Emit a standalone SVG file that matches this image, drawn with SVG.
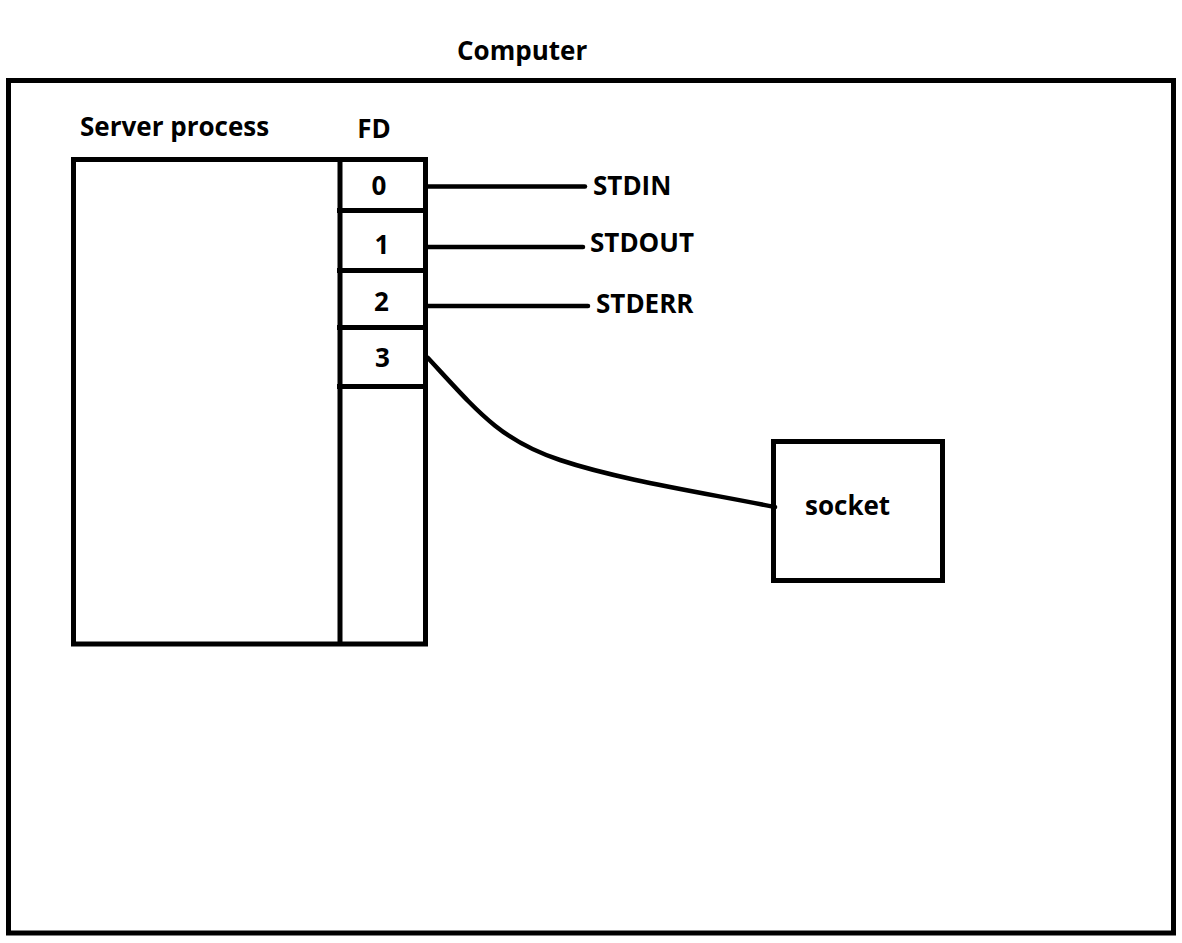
<svg xmlns="http://www.w3.org/2000/svg" width="1182" height="943" viewBox="0 0 1182 943">
<style>
.box{fill:none;stroke:#000;stroke-width:5}
.ln{fill:none;stroke:#000;stroke-width:4.5;stroke-linecap:round}
.t{font-family:"Open Sans","Noto Sans","Liberation Sans",sans-serif;font-weight:bold;font-size:26px;fill:#000}
.c{text-anchor:middle}
</style>
<rect width="1182" height="943" fill="#fff"/>
<g id="computer">
<rect class="box" x="8.5" y="80.5" width="1165" height="852.5"/>
<text class="t" x="457" y="60">Computer</text>
</g>
<g id="server-process">
<rect class="box" x="73.5" y="159.5" width="352" height="484.5"/>
<text class="t" x="80" y="136">Server process</text>
</g>
<g id="fd-table">
<text class="t c" x="374" y="138">FD</text>
<line class="box" x1="340" y1="159" x2="340" y2="644"/>
<line class="box" x1="337" y1="210.5" x2="428" y2="210.5"/>
<line class="box" x1="337" y1="270.5" x2="428" y2="270.5"/>
<line class="box" x1="337" y1="327.5" x2="428" y2="327.5"/>
<line class="box" x1="337" y1="386.5" x2="428" y2="386.5"/>
<text class="t c" x="379" y="195">0</text>
<text class="t c" x="382" y="254">1</text>
<text class="t c" x="381.5" y="311">2</text>
<text class="t c" x="382.5" y="366.5">3</text>
</g>
<g id="stdin"><text class="t" x="593" y="195">STDIN</text></g>
<g id="stdout"><text class="t" x="590" y="252">STDOUT</text></g>
<g id="stderr"><text class="t" x="596" y="313">STDERR</text></g>
<g id="socket">
<rect class="box" x="773.5" y="441.5" width="169" height="139"/>
<text class="t" x="805" y="515">socket</text>
</g>
<g id="connectors">
<line class="ln" x1="428" y1="186.5" x2="585" y2="186.5"/>
<line class="ln" x1="428" y1="247" x2="583" y2="247"/>
<line class="ln" x1="428" y1="306" x2="588" y2="306"/>
<path class="ln" d="M428,358 C478,412 500,440 560,460 S700,492 775,507"/>
</g>
</svg>
